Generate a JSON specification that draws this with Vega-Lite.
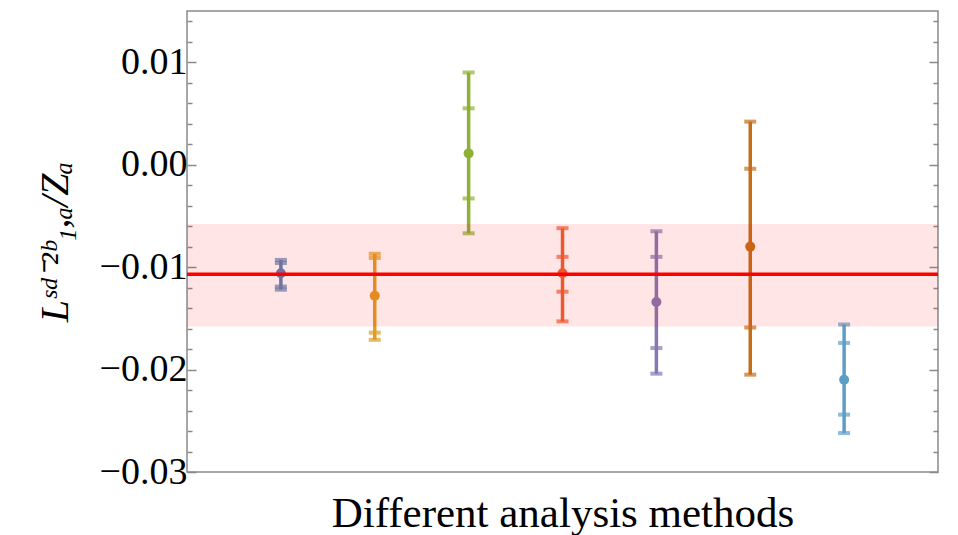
{
  "$schema": "https://vega.github.io/schema/vega-lite/v6.json",
  "width": 751,
  "height": 461,
  "autosize": "none",
  "padding": {"left": 187, "top": 11, "right": 20, "bottom": 63},
  "background": "white",
  "config": {
    "view": {"stroke": "#8a8a8a", "strokeWidth": 1.5},
    "axis": {"labelFont": "Liberation Serif", "titleFont": "Liberation Serif", "labelColor": "black", "titleColor": "black", "titleFontWeight": "normal", "domain": false, "grid": false}
  },
  "datasets": {
    "pts": [
      {"i": 1, "m": "M1", "c": -0.0106, "il": -0.0119, "ih": -0.0096, "ol": -0.0122, "oh": -0.0093},
      {"i": 2, "m": "M2", "c": -0.0128, "il": -0.0164, "ih": -0.0091, "ol": -0.0171, "oh": -0.0087},
      {"i": 3, "m": "M3", "c": 0.0011, "il": -0.0033, "ih": 0.0055, "ol": -0.0067, "oh": 0.0090},
      {"i": 4, "m": "M4", "c": -0.0106, "il": -0.0124, "ih": -0.0090, "ol": -0.0153, "oh": -0.0062},
      {"i": 5, "m": "M5", "c": -0.0134, "il": -0.0179, "ih": -0.0090, "ol": -0.0204, "oh": -0.0065},
      {"i": 6, "m": "M6", "c": -0.0080, "il": -0.0159, "ih": -0.0004, "ol": -0.0205, "oh": 0.0042},
      {"i": 7, "m": "M7", "c": -0.0210, "il": -0.0244, "ih": -0.0174, "ol": -0.0262, "oh": -0.0156}
    ],
    "band": [{"x0": 0, "x1": 8, "lo": -0.0158, "hi": -0.0058, "mid": -0.0107}]
  },
  "resolve": {"axis": {"y": "independent"}},
  "layer": [
    {
      "mark": {"type": "rule", "color": "#7a7a7a", "strokeWidth": 1.2},
      "encoding": {
        "y": {"datum": 0, "type": "quantitative",
          "scale": {"domain": [-0.03, 0.015], "nice": false, "zero": false},
          "axis": {"orient": "left", "values": [-0.03,-0.028,-0.026,-0.024,-0.022,-0.02,-0.018,-0.016,-0.014,-0.012,-0.01,-0.008,-0.006,-0.004,-0.002,0,0.002,0.004,0.006,0.008,0.01,0.012,0.014],
            "labelExpr": "abs(datum.value*100 - round(datum.value*100)) < 0.000001 ? format(datum.value, '.2f') : ''",
            "format": ".2f",
            "tickColor": "#8a8a8a", "tickWidth": 1.5,
            "tickSize": {"condition": {"test": "abs(datum.value*100 - round(datum.value*100)) < 0.000001", "value": -9}, "value": -5},
            "labelFontSize": 38, "labelPadding": 9,
            "title": "Lˢᵈ⁻²ᵇ₁,ₐ/Zₐ", "titleFontSize": 40, "titleFontStyle": "italic", "titlePadding": 24}
        }
      }
    },
    {
      "data": {"name": "pts"},
      "mark": {"type": "rule", "strokeWidth": 3.5},
      "encoding": {
        "x": {"field": "i", "type": "quantitative", "scale": {"domain": [0, 8], "nice": false, "zero": false},
          "axis": {"labels": false, "ticks": false, "title": "Different analysis methods", "titleFontSize": 43, "titlePadding": 20}},
        "y": {"field": "ol", "type": "quantitative",
          "axis": {"orient": "right", "values": [-0.03,-0.028,-0.026,-0.024,-0.022,-0.02,-0.018,-0.016,-0.014,-0.012,-0.01,-0.008,-0.006,-0.004,-0.002,0,0.002,0.004,0.006,0.008,0.01,0.012,0.014],
            "labels": false, "title": null, "tickColor": "#8a8a8a", "tickWidth": 1.5,
            "tickSize": {"condition": {"test": "abs(datum.value*100 - round(datum.value*100)) < 0.000001", "value": -9}, "value": -5}}},
        "y2": {"field": "oh"},
        "color": {"field": "m", "type": "nominal", "legend": null,
          "scale": {"domain": ["M1","M2","M3","M4","M5","M6","M7"], "range": ["#5E81B5","#E19C24","#8FB032","#EB6235","#8778B3","#C56E1A","#5D9EC7"]}}
      }
    },
    {
      "data": {"name": "pts"},
      "transform": [{"fold": ["ol", "oh", "il", "ih"], "as": ["k", "v"]}],
      "mark": {"type": "tick", "orient": "horizontal", "size": 12, "thickness": 4},
      "encoding": {
        "x": {"field": "i", "type": "quantitative"},
        "y": {"field": "v", "type": "quantitative", "axis": null},
        "color": {"field": "m", "type": "nominal", "legend": null}
      }
    },
    {
      "data": {"name": "pts"},
      "mark": {"type": "point", "filled": true, "opacity": 1, "size": 100, "shape": "circle"},
      "encoding": {
        "x": {"field": "i", "type": "quantitative"},
        "y": {"field": "c", "type": "quantitative", "axis": null},
        "color": {"field": "m", "type": "nominal", "legend": null}
      }
    },
    {
      "data": {"name": "band"},
      "mark": {"type": "rect", "color": "#ff0000", "opacity": 0.1},
      "encoding": {
        "x": {"field": "x0", "type": "quantitative"},
        "x2": {"field": "x1"},
        "y": {"field": "lo", "type": "quantitative", "axis": null},
        "y2": {"field": "hi"}
      }
    },
    {
      "data": {"name": "band"},
      "mark": {"type": "rule", "color": "#ff0000", "strokeWidth": 3.5},
      "encoding": {
        "y": {"field": "mid", "type": "quantitative", "axis": null}
      }
    }
  ]
}
